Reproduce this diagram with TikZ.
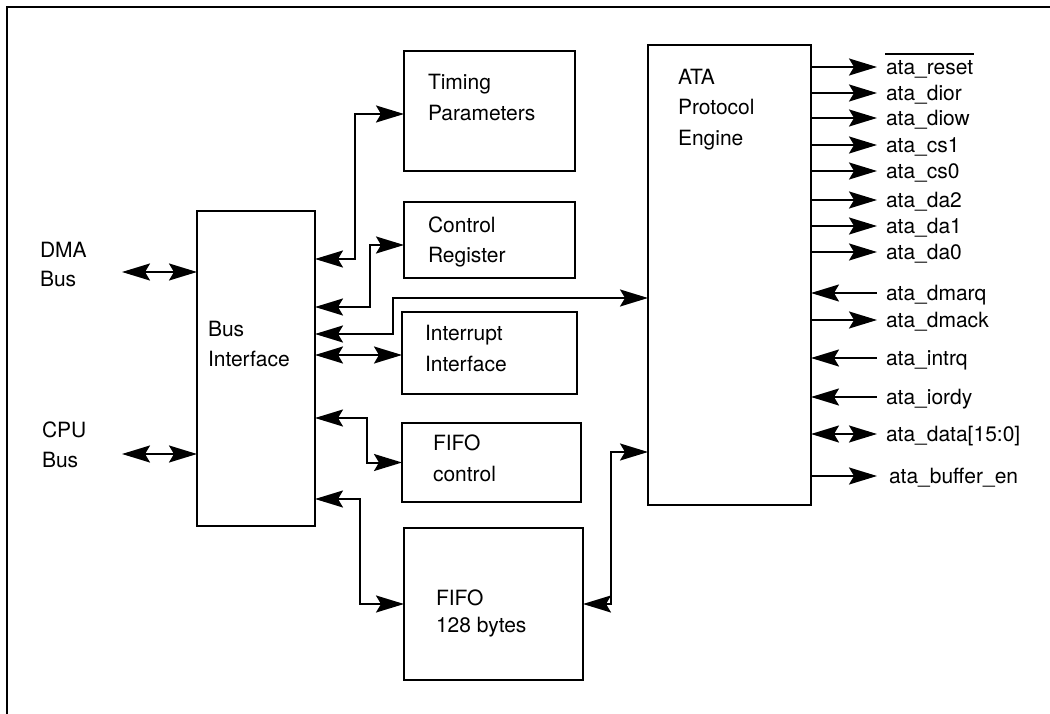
\documentclass[tikz,border=0pt]{standalone}
\usepackage{fontspec}
\setmainfont{TeX Gyre Heros}
\usetikzlibrary{arrows.meta}
\begin{document}
\begin{tikzpicture}[x=1pt,y=-1pt, line width=2pt,
  >={Stealth[length=28pt,width=17pt,inset=5pt]},
  box/.style={draw, rectangle, inner sep=0pt, outer sep=0pt, anchor=north west},
  txt/.style={font=\fontsize{21}{25}\selectfont, anchor=base west, inner sep=0pt},
  sig/.style={font=\fontsize{21}{25}\selectfont, anchor=west, inner sep=0pt, text height=15pt, text depth=0pt}]
\useasboundingbox (0,0) rectangle (1050,714);
% frame
\draw (1050,7) -- (7,7) -- (7,714);
% boxes
\node[box, minimum width=171pt, minimum height=120pt] (ti) at (404,51) {};
\node[box, minimum width=171pt, minimum height=76pt] (cr) at (404,202) {};
\node[box, minimum width=175pt, minimum height=82pt] (ii) at (402,312) {};
\node[box, minimum width=179pt, minimum height=79pt] (fc) at (402,423) {};
\node[box, minimum width=179pt, minimum height=152pt] (ff) at (404,528) {};
\node[box, minimum width=118pt, minimum height=315pt] (bi) at (197,211) {};
\node[box, minimum width=163pt, minimum height=460pt] (ata) at (648,45) {};
% texts
\node[txt] (tiA) at (427,90) {Timing};
\node[txt] (tiB) at (427,121) {Parameters};
\node[txt] (crA) at (427,233) {Control};
\node[txt] (crB) at (427,263) {Register};
\node[txt] (iiA) at (424,340) {Interrupt};
\node[txt] (iiB) at (424,371) {Interface};
\node[txt] (fcA) at (432,450) {FIFO};
\node[txt] (fcB) at (432,481) {control};
\node[txt] (ffA) at (435,605) {FIFO};
\node[txt] (ffB) at (435,632) {128 bytes};
\node[txt] (biA) at (207,336) {Bus};
\node[txt] (biB) at (207,366) {Interface};
\node[txt] (ataA) at (677,85) {ATA};
\node[txt] (ataB) at (677,115) {Protocol};
\node[txt] (ataC) at (677,146) {Engine};
\node[txt] (dmaA) at (39,258) {DMA};
\node[txt] (dmaB) at (39,287) {Bus};
\node[txt] (cpuA) at (41,437) {CPU};
\node[txt] (cpuB) at (41,467) {Bus};
% external bus arrows
\coordinate (dmaE) at (122,272);
\coordinate (cpuE) at (122,454);
\draw[<->] (dmaE) -- (dmaE -| bi.west);
\draw[<->] (cpuE) -- (cpuE -| bi.west);
% internal connectors
\draw[<->] ([yshift=-48pt]bi.north east) -- ++(40,0) |- ([yshift=-3pt]ti.west);
\draw[<->] ([yshift=-96pt]bi.north east) -- ++(55,0) |- ([yshift=-5pt]cr.west);
\draw[<->] ([yshift=-123pt]bi.north east) -- ++(78,0) |- ([yshift=-23pt]ata.west);
\draw[<->] ([yshift=-2pt]bi.east |- ii.west) -- ([yshift=-2pt]ii.west);
\draw[<->] ([yshift=-207pt]bi.north east) -- ++(52,0) |- (fc.west);
\draw[<->] ([yshift=-288pt]bi.north east) -- ++(45,0) |- (ff.west);
\draw[<->] (ff.east) -- ++(28,0) |- ([yshift=-177pt]ata.west);
% ATA signals
\node[sig] (s1) at (885,67) {ata\_reset};
\node[sig] (s2) at (885,93) {ata\_dior};
\node[sig] (s3) at (885,118) {ata\_diow};
\node[sig] (s4) at (885,145) {ata\_cs1};
\node[sig] (s5) at (885,171) {ata\_cs0};
\node[sig] (s6) at (885,200) {ata\_da2};
\node[sig] (s7) at (885,226) {ata\_da1};
\node[sig] (s8) at (885,252) {ata\_da0};
\node[sig] (s9) at (885,293) {ata\_dmarq};
\node[sig] (s10) at (885,320) {ata\_dmack};
\node[sig] (s11) at (885,358) {ata\_intrq};
\node[sig] (s12) at (885,397) {ata\_iordy};
\node[sig] (s13) at (885,434) {ata\_data[15:0]};
\node[sig] (s14) at (888,476) {ata\_buffer\_en};
\draw ([yshift=4pt]s1.north west) -- ([yshift=4pt]s1.north east);
\draw[->] (ata.east |- s1.west) -- ([xshift=-8pt]s1.west);
\draw[->] (ata.east |- s2.west) -- ([xshift=-8pt]s2.west);
\draw[->] (ata.east |- s3.west) -- ([xshift=-8pt]s3.west);
\draw[->] (ata.east |- s4.west) -- ([xshift=-8pt]s4.west);
\draw[->] (ata.east |- s5.west) -- ([xshift=-8pt]s5.west);
\draw[->] (ata.east |- s6.west) -- ([xshift=-8pt]s6.west);
\draw[->] (ata.east |- s7.west) -- ([xshift=-8pt]s7.west);
\draw[->] (ata.east |- s8.west) -- ([xshift=-8pt]s8.west);
\draw[<-] (ata.east |- s9.west) -- ([xshift=-8pt]s9.west);
\draw[->] (ata.east |- s10.west) -- ([xshift=-8pt]s10.west);
\draw[<-] (ata.east |- s11.west) -- ([xshift=-8pt]s11.west);
\draw[<-] (ata.east |- s12.west) -- ([xshift=-8pt]s12.west);
\draw[<->] (ata.east |- s13.west) -- ([xshift=-8pt]s13.west);
\draw[->] (ata.east |- s14.west) -- ([xshift=-11pt]s14.west);
\end{tikzpicture}
\end{document}
